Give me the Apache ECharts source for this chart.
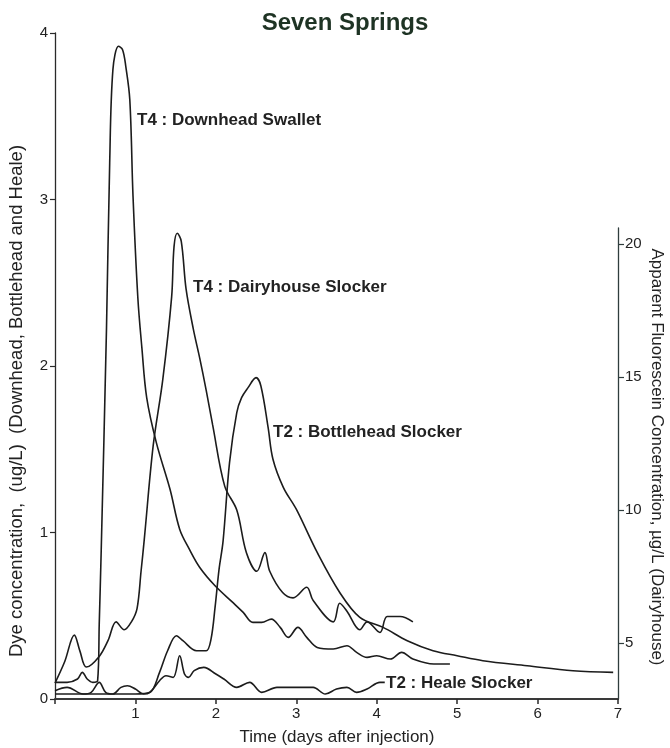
<!DOCTYPE html>
<html>
<head>
<meta charset="utf-8">
<script src="https://cdn.jsdelivr.net/npm/echarts@6/dist/echarts.min.js"></script>
<style>html,body{margin:0;padding:0;background:#fff}#c{width:670px;height:748px}</style>
</head>
<body>
<div id="c"></div>
<script>
// ---- Data (days after injection, concentrations) ----
const downheadDays = [0, 0.15, 0.28, 0.34, 0.40, 0.47, 0.53, 0.55, 0.575, 0.64, 0.68, 0.72, 0.79, 0.84, 0.88, 0.93, 0.97, 1.03, 1.08, 1.14, 1.26, 1.43, 1.55, 1.67, 1.80, 1.99, 2.21, 2.34, 2.46, 2.57, 2.69, 2.80, 2.90, 3.02, 3.13, 3.26, 3.46, 3.63, 3.75, 3.88, 4.00, 4.17, 4.31, 4.45, 4.71, 4.91];
const downheadConc = [0.10, 0.10, 0.12, 0.16, 0.12, 0.10, 0.11, 0.45, 0.90, 2.22, 3.22, 3.78, 3.92, 3.90, 3.80, 3.60, 3.02, 2.41, 2.11, 1.81, 1.54, 1.26, 1.02, 0.90, 0.79, 0.68, 0.58, 0.52, 0.46, 0.46, 0.48, 0.43, 0.37, 0.43, 0.37, 0.31, 0.30, 0.32, 0.28, 0.25, 0.26, 0.24, 0.28, 0.24, 0.21, 0.21];

const bottleheadDays = [0, 0.5, 1.0, 1.18, 1.30, 1.40, 1.51, 1.59, 1.76, 1.88, 1.94, 1.99, 2.04, 2.09, 2.17, 2.26, 2.32, 2.40, 2.50, 2.56, 2.65, 2.71, 2.84, 3.00, 3.26, 3.54, 3.79, 4.08, 4.38, 4.70, 5.00, 5.32, 5.87, 6.44, 6.94];
const bottleheadConc = [0.03, 0.03, 0.03, 0.04, 0.16, 0.29, 0.38, 0.35, 0.29, 0.29, 0.36, 0.55, 0.78, 0.95, 1.42, 1.72, 1.81, 1.87, 1.93, 1.88, 1.63, 1.44, 1.27, 1.14, 0.88, 0.64, 0.49, 0.43, 0.35, 0.29, 0.26, 0.23, 0.20, 0.17, 0.16];

const healeDays = [0, 0.15, 0.35, 0.45, 0.55, 0.63, 0.72, 0.82, 0.90, 1.00, 1.10, 1.18, 1.30, 1.38, 1.47, 1.55, 1.61, 1.66, 1.73, 1.85, 2.00, 2.10, 2.26, 2.42, 2.57, 2.76, 3.04, 3.21, 3.36, 3.50, 3.63, 3.75, 3.88, 4.04, 4.10];
const healeConc = [0.05, 0.07, 0.03, 0.04, 0.10, 0.04, 0.03, 0.07, 0.08, 0.06, 0.03, 0.04, 0.11, 0.14, 0.13, 0.26, 0.15, 0.13, 0.17, 0.19, 0.15, 0.12, 0.07, 0.10, 0.04, 0.07, 0.07, 0.07, 0.03, 0.06, 0.07, 0.04, 0.06, 0.10, 0.10];

// Dairyhouse: apparent fluorescein concentration (right axis, µg/L)
const dairyDays = [0, 0.12, 0.24, 0.31, 0.39, 0.55, 0.66, 0.76, 0.86, 0.95, 1.02, 1.07, 1.11, 1.22, 1.34, 1.45, 1.48, 1.52, 1.57, 1.63, 1.72, 1.80, 1.88, 1.96, 2.11, 2.26, 2.38, 2.51, 2.61, 2.67, 2.83, 2.96, 3.13, 3.21, 3.46, 3.54, 3.63, 3.79, 3.88, 4.04, 4.13, 4.29, 4.45];
const dairyConc = [3.5, 4.3, 5.3, 4.7, 4.1, 4.5, 5.1, 5.8, 5.5, 5.8, 6.3, 7.7, 8.9, 12.4, 14.9, 18.0, 19.9, 20.4, 20.1, 18.3, 16.8, 15.7, 14.5, 13.2, 10.9, 10.0, 8.4, 7.7, 8.4, 7.7, 6.9, 6.7, 7.1, 6.6, 5.8, 6.5, 6.2, 5.5, 5.8, 5.4, 6.0, 6.0, 5.8];

const leftTicks = [0, 1, 2, 3, 4];
const rightTicks = [5, 10, 15, 20];
const xTicks = [0, 1, 2, 3, 4, 5, 6, 7];

const seriesNames = ['T4 : Downhead Swallet', 'T4 : Dairyhouse Slocker', 'T2 : Bottlehead Slocker', 'T2 : Heale Slocker'];

function zip(a, b) { return a.map((v, i) => [v, b[i]]); }

const chart = echarts.init(document.getElementById('c'), null, { renderer: 'canvas' });
const FONT = 'Liberation Sans, Arial, sans-serif';
const INK = '#1c1c1c';

const lineBase = {
  type: 'line', showSymbol: false, smooth: 0.35, silent: true,
  lineStyle: { color: INK, width: 1.6 }, z: 3
};

chart.setOption({
  animation: false,
  backgroundColor: '#fff',
  title: {
    text: 'Seven Springs', left: 340, textAlign: 'center', top: 6,
    textStyle: { fontFamily: FONT, fontWeight: 'bold', fontSize: 24, color: '#1e3324' }
  },
  grid: [
    { left: 55, right: 52, top: 33, bottom: 49 },
    { left: 55, right: 52, top: 228, bottom: 49 }
  ],
  xAxis: [
    {
      type: 'value', gridIndex: 0, min: xTicks[0], max: xTicks[xTicks.length - 1], interval: 1,
      axisLine: { onZero: false, lineStyle: { color: '#3a3a3a', width: 2 } },
      axisTick: { length: 5, lineStyle: { color: '#2a2a2a', width: 1.5 } },
      axisLabel: { formatter: v => (v === 0 ? '' : String(v)), fontFamily: FONT, fontSize: 15, color: '#222', margin: 7 },
      splitLine: { show: false }
    },
    { type: 'value', gridIndex: 1, min: xTicks[0], max: xTicks[xTicks.length - 1], show: false }
  ],
  yAxis: [
    {
      type: 'value', gridIndex: 0, min: leftTicks[0], max: leftTicks[leftTicks.length - 1], interval: 1,
      axisLine: { show: true, onZero: false, lineStyle: { color: '#2a2a2a', width: 1.3 } },
      axisTick: { show: true, length: 5, lineStyle: { color: '#2a2a2a', width: 1.2 } },
      axisLabel: { fontFamily: FONT, fontSize: 15, color: '#222', margin: 7 },
      splitLine: { show: false }
    },
    {
      type: 'value', gridIndex: 1, position: 'right', min: 2.9, max: 20.6,
      axisLine: { show: true, onZero: false, lineStyle: { color: '#2f3d3d', width: 1.3 } },
      axisTick: { show: true, length: 6, customValues: rightTicks, lineStyle: { color: '#2f3d3d', width: 1.2 } },
      axisLabel: { customValues: rightTicks, fontFamily: FONT, fontSize: 15, color: '#222', margin: 7 },
      splitLine: { show: false }
    }
  ],
  series: [
    Object.assign({}, lineBase, { name: seriesNames[0], xAxisIndex: 0, yAxisIndex: 0, data: zip(downheadDays, downheadConc) }),
    Object.assign({}, lineBase, { name: seriesNames[1], xAxisIndex: 1, yAxisIndex: 1, data: zip(dairyDays, dairyConc) }),
    Object.assign({}, lineBase, { name: seriesNames[2], xAxisIndex: 0, yAxisIndex: 0, data: zip(bottleheadDays, bottleheadConc) }),
    Object.assign({}, lineBase, { name: seriesNames[3], xAxisIndex: 0, yAxisIndex: 0, data: zip(healeDays, healeConc) })
  ],
  graphic: [
    { type: 'text', x: 137, y: 120, style: { text: seriesNames[0], fontFamily: FONT, fontWeight: 'bold', fontSize: 17, fill: '#222', align: 'left', verticalAlign: 'middle' } },
    { type: 'text', x: 193, y: 287, style: { text: seriesNames[1], fontFamily: FONT, fontWeight: 'bold', fontSize: 17, fill: '#222', align: 'left', verticalAlign: 'middle' } },
    { type: 'text', x: 273, y: 432, style: { text: seriesNames[2], fontFamily: FONT, fontWeight: 'bold', fontSize: 17, fill: '#222', align: 'left', verticalAlign: 'middle' } },
    { type: 'text', x: 386, y: 683, style: { text: seriesNames[3], fontFamily: FONT, fontWeight: 'bold', fontSize: 17, fill: '#222', align: 'left', verticalAlign: 'middle' } },
    { type: 'text', x: 337, y: 737, style: { text: 'Time (days after injection)', fontFamily: FONT, fontSize: 17, fill: '#222', align: 'center', verticalAlign: 'middle' } },
    { type: 'text', x: 17, y: 401, rotation: Math.PI / 2, style: { text: 'Dye concentration,  (ug/L)  (Downhead, Bottlehead and Heale)', fontFamily: FONT, fontSize: 18.5, fill: '#222', align: 'center', verticalAlign: 'middle' } },
    { type: 'text', x: 657, y: 457, rotation: -Math.PI / 2, style: { text: 'Apparent Fluorescein Concentration, µg/L (Dairyhouse)', fontFamily: FONT, fontSize: 17, fill: '#222', align: 'center', verticalAlign: 'middle' } }
  ]
});
</script>
</body>
</html>
